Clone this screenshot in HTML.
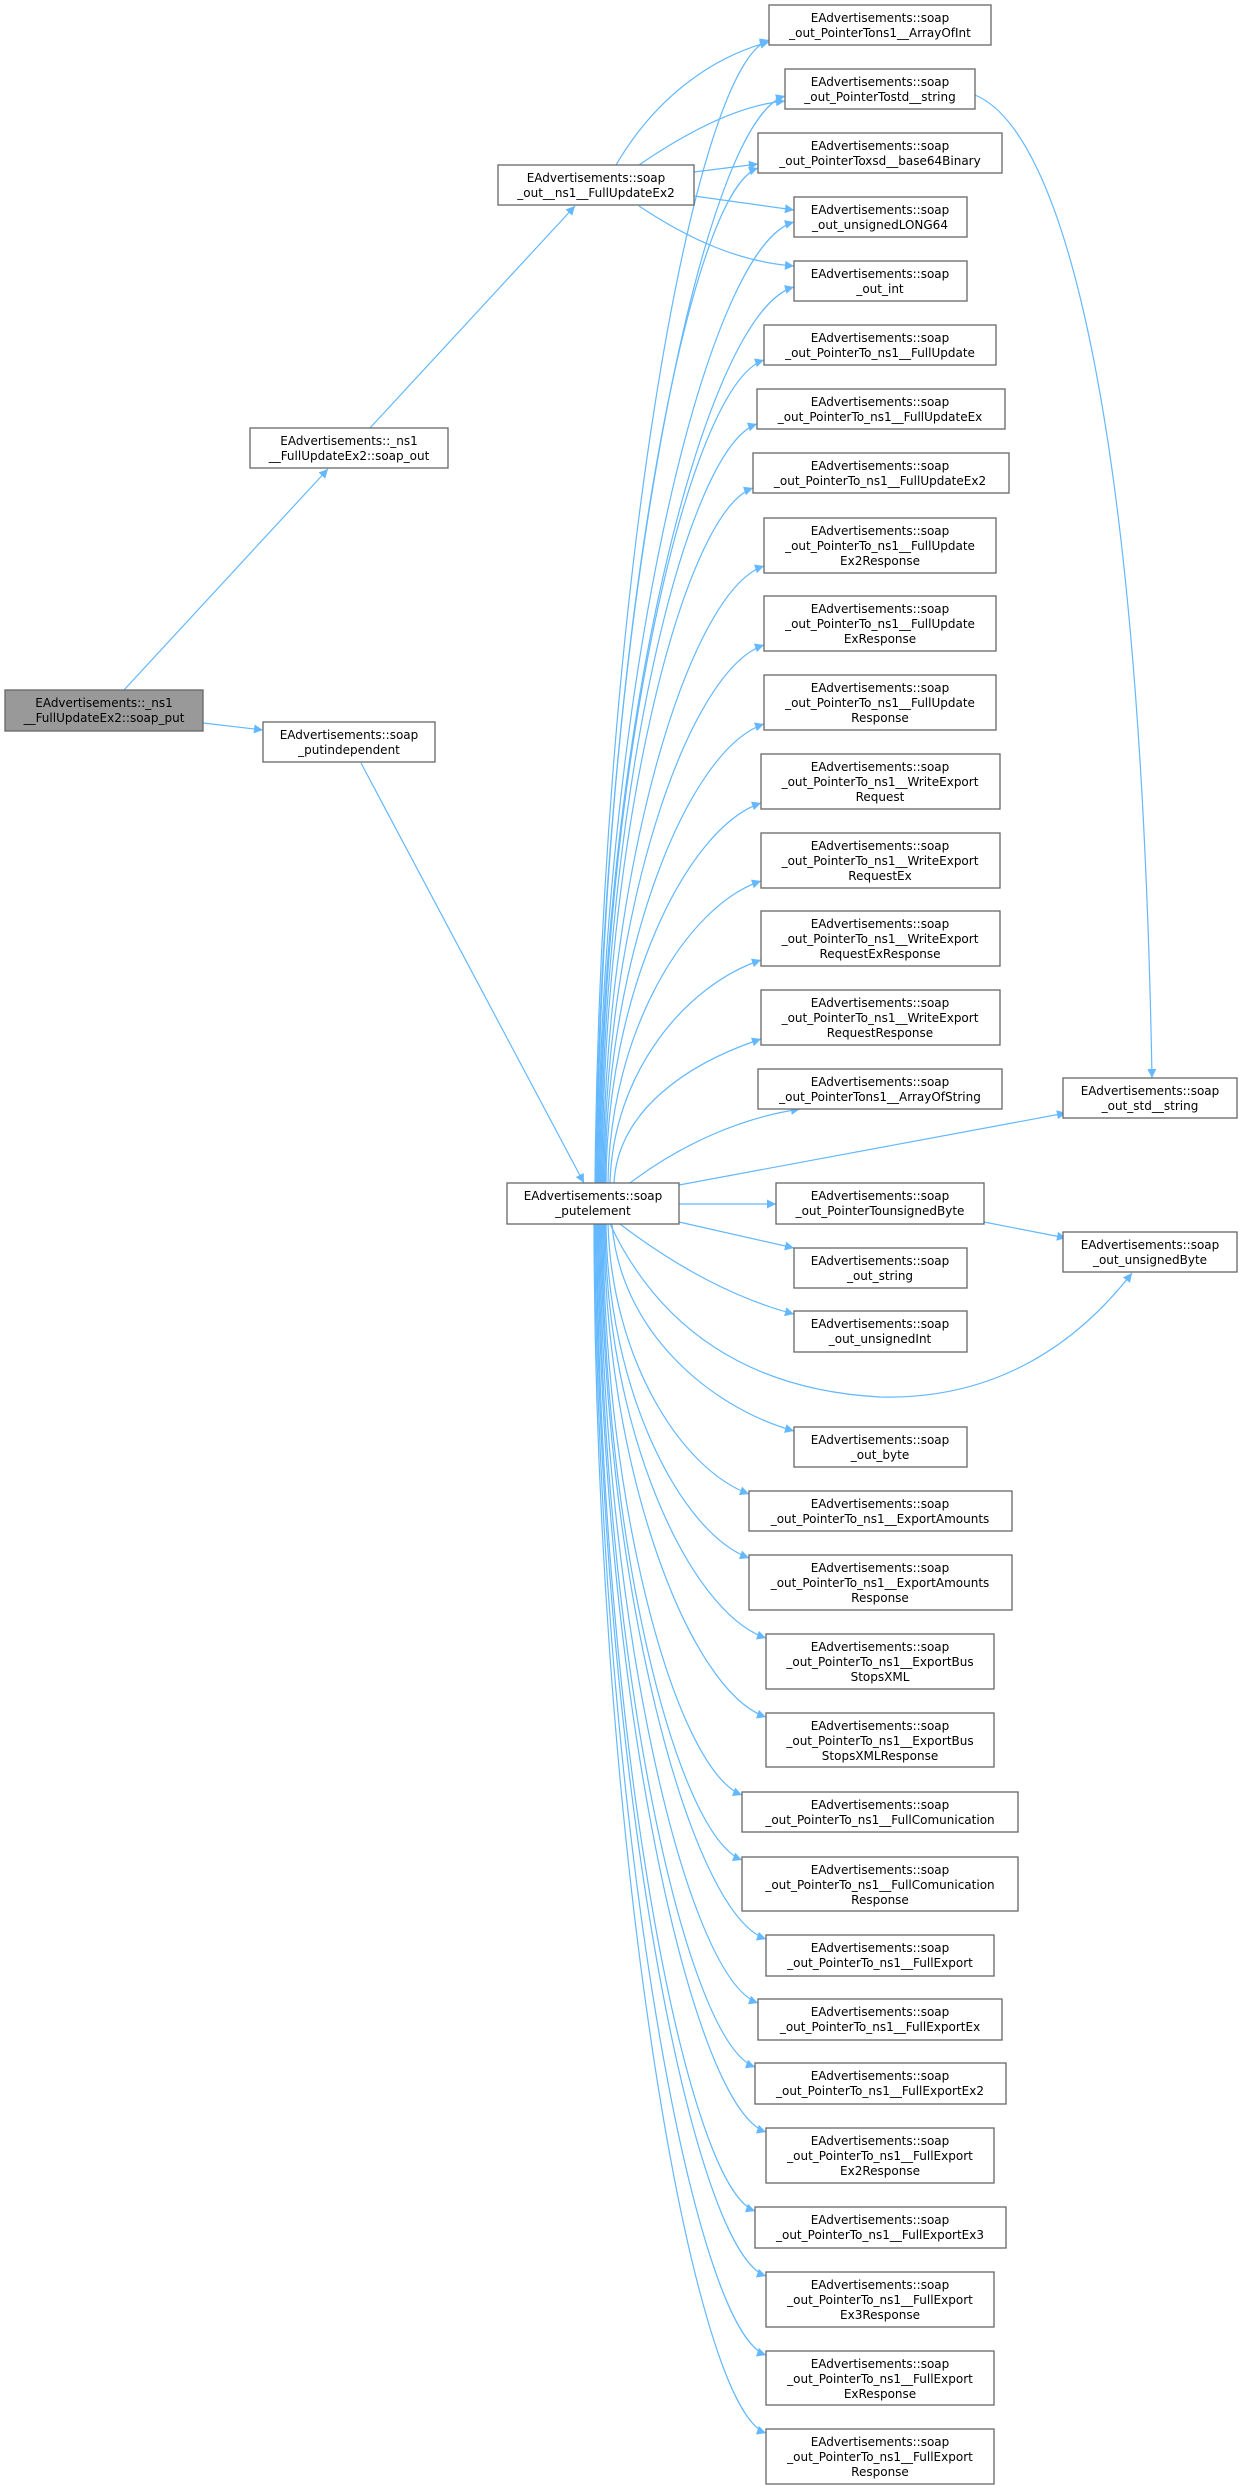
<!DOCTYPE html>
<html><head><meta charset="utf-8"><style>
html,body{margin:0;padding:0;background:#fff;}
svg{display:block;}
text{font-family:"DejaVu Sans","Liberation Sans",sans-serif;font-size:12px;fill:#000;text-anchor:middle;}
.n{fill:#fff;stroke:#666;stroke-width:1.3;}
.r{fill:#999;stroke:#666;stroke-width:1.3;}
.e{fill:none;stroke:#63b8ff;stroke-width:1.2;marker-end:url(#a);}
</style></head><body>
<svg width="1239" height="2490" viewBox="0 0 1239 2490" xmlns="http://www.w3.org/2000/svg">
<defs><marker id="a" viewBox="0 0 10 10" refX="10" refY="5" markerWidth="12" markerHeight="9" markerUnits="userSpaceOnUse" orient="auto"><path d="M0,0 L10,5 L0,10 z" fill="#63b8ff"/></marker></defs>

<path class="e" d="M124 690 L328 469"/>
<path class="e" d="M203 723 L263 730"/>
<path class="e" d="M370 428 L575 206"/>
<path class="e" d="M361 763 L584 1183"/>
<path class="e" d="M616 165 C660 90,720 55,769 42"/>
<path class="e" d="M639 165 C690 130,740 105,785 101"/>
<path class="e" d="M694 172 L758 164"/>
<path class="e" d="M694 196 L794 210"/>
<path class="e" d="M639 206 C690 240,740 262,794 266"/>
<path class="e" d="M975 95 C1060 130,1140 400,1152 1078"/>

<path class="e" d="M595 1183 C600 612,691 65,769 40"/>
<path class="e" d="M596 1183 C600 640,700 121,785 96"/>
<path class="e" d="M597 1183 C600 676,685 193,758 168"/>
<path class="e" d="M598 1183 C600 703,704 247,794 222"/>
<path class="e" d="M599 1183 C600 735,704 312,794 287"/>
<path class="e" d="M600 1183 C601 772,688 385,764 360"/>
<path class="e" d="M601 1183 C602 804,684 449,757 424"/>
<path class="e" d="M602 1183 C603 836,682 513,753 488"/>
<path class="e" d="M603 1183 C604 875,688 591,764 566"/>
<path class="e" d="M604 1183 C605 914,688 670,764 645"/>
<path class="e" d="M605 1183 C606 954,688 749,764 724"/>
<path class="e" d="M606 1183 C607 993,686 828,761 803"/>
<path class="e" d="M608 1183 C610 1032,686 906,761 881"/>
<path class="e" d="M610 1183 C613 1072,686 985,761 960"/>
<path class="e" d="M614 1183 C618 1111,686 1064,761 1039"/>
<path class="e" d="M630 1183 C680 1145,740 1118,800 1109"/>
<path class="e" d="M679 1185 L1066 1113"/>
<path class="e" d="M679 1204 L776 1204"/>
<path class="e" d="M679 1222 L794 1248"/>
<path class="e" d="M620 1224 C680 1270,740 1300,794 1314"/>
<path class="e" d="M610 1224 C660 1330,750 1390,880 1397 C1000 1400,1080 1340,1132 1273"/>
<path class="e" d="M984 1222 L1066 1238"/>

<path class="e" d="M612 1224 C620 1328,706 1406,794 1431"/>
<path class="e" d="M608 1224 C612 1359,681 1469,749 1494"/>
<path class="e" d="M606 1224 C608 1391,681 1533,749 1558"/>
<path class="e" d="M605 1224 C606 1431,690 1613,766 1638"/>
<path class="e" d="M604 1224 C605 1470,690 1692,766 1717"/>
<path class="e" d="M603 1224 C604 1510,677 1770,742 1795"/>
<path class="e" d="M602 1224 C603 1542,677 1835,742 1860"/>
<path class="e" d="M601 1224 C602 1582,690 1914,766 1939"/>
<path class="e" d="M600 1224 C601 1614,686 1978,758 2003"/>
<path class="e" d="M599 1224 C600 1646,684 2042,755 2067"/>
<path class="e" d="M598 1224 C599 1678,690 2107,766 2132"/>
<path class="e" d="M597 1224 C598 1718,684 2186,755 2211"/>
<path class="e" d="M596 1224 C597 1750,690 2251,766 2276"/>
<path class="e" d="M595 1224 C596 1790,690 2330,766 2355"/>
<path class="e" d="M594 1224 C595 1829,690 2408,766 2433"/>

<rect class="r" x="5" y="690" width="198" height="41"/><text x="104" y="707">EAdvertisements::_ns1</text><text x="104" y="722">__FullUpdateEx2::soap_put</text>
<rect class="n" x="250" y="428" width="198" height="40"/><text x="349" y="445">EAdvertisements::_ns1</text><text x="349" y="460">__FullUpdateEx2::soap_out</text>
<rect class="n" x="263" y="722" width="172" height="40"/><text x="349" y="739">EAdvertisements::soap</text><text x="349" y="754">_putindependent</text>
<rect class="n" x="498" y="165" width="196" height="40"/><text x="596" y="182">EAdvertisements::soap</text><text x="596" y="197">_out__ns1__FullUpdateEx2</text>
<rect class="n" x="507" y="1183" width="172" height="41"/><text x="593" y="1200">EAdvertisements::soap</text><text x="593" y="1215">_putelement</text>

<rect class="n" x="769" y="5" width="222" height="40"/><text x="880" y="22">EAdvertisements::soap</text><text x="880" y="37">_out_PointerTons1__ArrayOfInt</text>
<rect class="n" x="785" y="69" width="190" height="40"/><text x="880" y="86">EAdvertisements::soap</text><text x="880" y="101">_out_PointerTostd__string</text>
<rect class="n" x="758" y="133" width="244" height="40"/><text x="880" y="150">EAdvertisements::soap</text><text x="880" y="165">_out_PointerToxsd__base64Binary</text>
<rect class="n" x="794" y="197" width="173" height="40"/><text x="880" y="214">EAdvertisements::soap</text><text x="880" y="229">_out_unsignedLONG64</text>
<rect class="n" x="794" y="261" width="173" height="40"/><text x="880" y="278">EAdvertisements::soap</text><text x="880" y="293">_out_int</text>
<rect class="n" x="764" y="325" width="232" height="40"/><text x="880" y="342">EAdvertisements::soap</text><text x="880" y="357">_out_PointerTo_ns1__FullUpdate</text>
<rect class="n" x="757" y="389" width="248" height="40"/><text x="880" y="406">EAdvertisements::soap</text><text x="880" y="421">_out_PointerTo_ns1__FullUpdateEx</text>
<rect class="n" x="753" y="453" width="256" height="40"/><text x="880" y="470">EAdvertisements::soap</text><text x="880" y="485">_out_PointerTo_ns1__FullUpdateEx2</text>
<rect class="n" x="764" y="518" width="232" height="55"/><text x="880" y="535">EAdvertisements::soap</text><text x="880" y="550">_out_PointerTo_ns1__FullUpdate</text><text x="880" y="565">Ex2Response</text>
<rect class="n" x="764" y="596" width="232" height="55"/><text x="880" y="613">EAdvertisements::soap</text><text x="880" y="628">_out_PointerTo_ns1__FullUpdate</text><text x="880" y="643">ExResponse</text>
<rect class="n" x="764" y="675" width="232" height="55"/><text x="880" y="692">EAdvertisements::soap</text><text x="880" y="707">_out_PointerTo_ns1__FullUpdate</text><text x="880" y="722">Response</text>
<rect class="n" x="761" y="754" width="239" height="55"/><text x="880" y="771">EAdvertisements::soap</text><text x="880" y="786">_out_PointerTo_ns1__WriteExport</text><text x="880" y="801">Request</text>
<rect class="n" x="761" y="833" width="239" height="55"/><text x="880" y="850">EAdvertisements::soap</text><text x="880" y="865">_out_PointerTo_ns1__WriteExport</text><text x="880" y="880">RequestEx</text>
<rect class="n" x="761" y="911" width="239" height="55"/><text x="880" y="928">EAdvertisements::soap</text><text x="880" y="943">_out_PointerTo_ns1__WriteExport</text><text x="880" y="958">RequestExResponse</text>
<rect class="n" x="761" y="990" width="239" height="55"/><text x="880" y="1007">EAdvertisements::soap</text><text x="880" y="1022">_out_PointerTo_ns1__WriteExport</text><text x="880" y="1037">RequestResponse</text>
<rect class="n" x="758" y="1069" width="244" height="40"/><text x="880" y="1086">EAdvertisements::soap</text><text x="880" y="1101">_out_PointerTons1__ArrayOfString</text>
<rect class="n" x="1063" y="1078" width="174" height="40"/><text x="1150" y="1095">EAdvertisements::soap</text><text x="1150" y="1110">_out_std__string</text>
<rect class="n" x="776" y="1183" width="208" height="41"/><text x="880" y="1200">EAdvertisements::soap</text><text x="880" y="1215">_out_PointerTounsignedByte</text>
<rect class="n" x="1063" y="1232" width="174" height="40"/><text x="1150" y="1249">EAdvertisements::soap</text><text x="1150" y="1264">_out_unsignedByte</text>
<rect class="n" x="794" y="1248" width="173" height="40"/><text x="880" y="1265">EAdvertisements::soap</text><text x="880" y="1280">_out_string</text>
<rect class="n" x="794" y="1311" width="173" height="41"/><text x="880" y="1328">EAdvertisements::soap</text><text x="880" y="1343">_out_unsignedInt</text>
<rect class="n" x="794" y="1427" width="173" height="40"/><text x="880" y="1444">EAdvertisements::soap</text><text x="880" y="1459">_out_byte</text>
<rect class="n" x="749" y="1491" width="263" height="40"/><text x="880" y="1508">EAdvertisements::soap</text><text x="880" y="1523">_out_PointerTo_ns1__ExportAmounts</text>
<rect class="n" x="749" y="1555" width="263" height="55"/><text x="880" y="1572">EAdvertisements::soap</text><text x="880" y="1587">_out_PointerTo_ns1__ExportAmounts</text><text x="880" y="1602">Response</text>
<rect class="n" x="766" y="1634" width="228" height="55"/><text x="880" y="1651">EAdvertisements::soap</text><text x="880" y="1666">_out_PointerTo_ns1__ExportBus</text><text x="880" y="1681">StopsXML</text>
<rect class="n" x="766" y="1713" width="228" height="54"/><text x="880" y="1730">EAdvertisements::soap</text><text x="880" y="1745">_out_PointerTo_ns1__ExportBus</text><text x="880" y="1760">StopsXMLResponse</text>
<rect class="n" x="742" y="1792" width="276" height="40"/><text x="880" y="1809">EAdvertisements::soap</text><text x="880" y="1824">_out_PointerTo_ns1__FullComunication</text>
<rect class="n" x="742" y="1857" width="276" height="54"/><text x="880" y="1874">EAdvertisements::soap</text><text x="880" y="1889">_out_PointerTo_ns1__FullComunication</text><text x="880" y="1904">Response</text>
<rect class="n" x="766" y="1935" width="228" height="41"/><text x="880" y="1952">EAdvertisements::soap</text><text x="880" y="1967">_out_PointerTo_ns1__FullExport</text>
<rect class="n" x="758" y="1999" width="244" height="41"/><text x="880" y="2016">EAdvertisements::soap</text><text x="880" y="2031">_out_PointerTo_ns1__FullExportEx</text>
<rect class="n" x="755" y="2063" width="251" height="41"/><text x="880" y="2080">EAdvertisements::soap</text><text x="880" y="2095">_out_PointerTo_ns1__FullExportEx2</text>
<rect class="n" x="766" y="2128" width="228" height="55"/><text x="880" y="2145">EAdvertisements::soap</text><text x="880" y="2160">_out_PointerTo_ns1__FullExport</text><text x="880" y="2175">Ex2Response</text>
<rect class="n" x="755" y="2207" width="251" height="41"/><text x="880" y="2224">EAdvertisements::soap</text><text x="880" y="2239">_out_PointerTo_ns1__FullExportEx3</text>
<rect class="n" x="766" y="2272" width="228" height="55"/><text x="880" y="2289">EAdvertisements::soap</text><text x="880" y="2304">_out_PointerTo_ns1__FullExport</text><text x="880" y="2319">Ex3Response</text>
<rect class="n" x="766" y="2351" width="228" height="54"/><text x="880" y="2368">EAdvertisements::soap</text><text x="880" y="2383">_out_PointerTo_ns1__FullExport</text><text x="880" y="2398">ExResponse</text>
<rect class="n" x="766" y="2429" width="228" height="55"/><text x="880" y="2446">EAdvertisements::soap</text><text x="880" y="2461">_out_PointerTo_ns1__FullExport</text><text x="880" y="2476">Response</text>
</svg>
</body></html>
